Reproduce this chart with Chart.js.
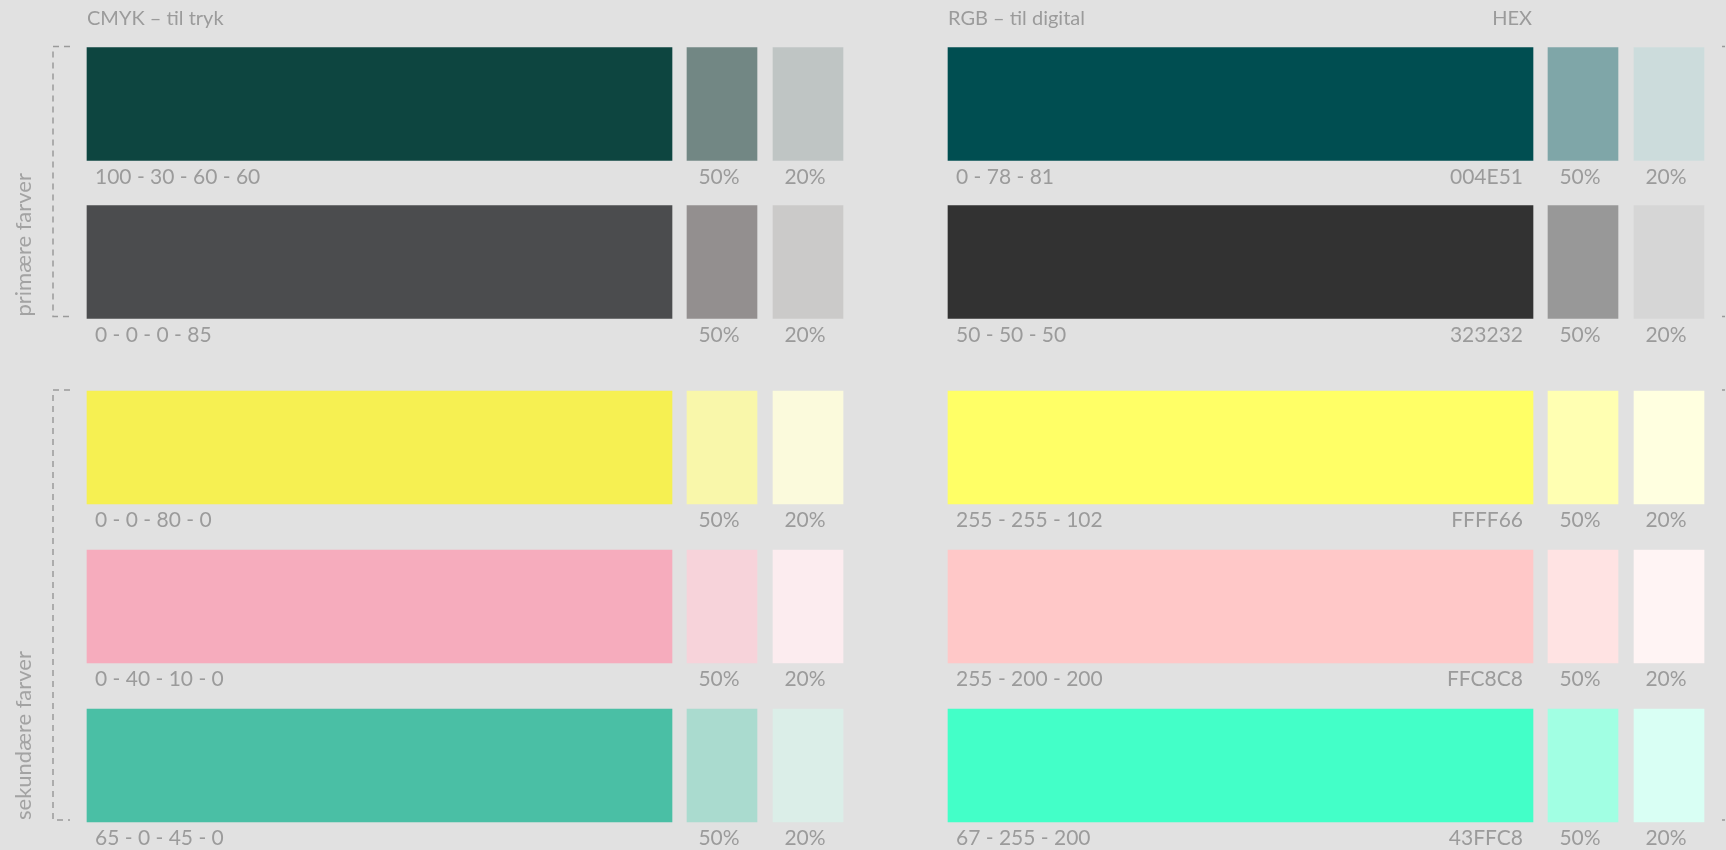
<!DOCTYPE html>
<html lang="da">
<head>
<meta charset="utf-8">
<title>Farver</title>
<script src="https://cdn.jsdelivr.net/npm/chart.js@4.4.1/dist/chart.umd.min.js"></script>
<style>
  html, body { margin: 0; padding: 0; background: #e1e1e1; }
  body { width: 1726px; height: 850px; position: relative; overflow: hidden; }
  .wrap { position: absolute; left: 0; width: 1726px; }
  #primary { top: 0; height: 360px; }
  #secondary { top: 360px; height: 490px; }
</style>
</head>
<body>
<div class="wrap" id="primary"><canvas id="chartPrimary"></canvas></div>
<div class="wrap" id="secondary"><canvas id="chartSecondary"></canvas></div>
<script>
// ========================================
// DATA - farvepalet
// ========================================
const groupNames = ['primære farver', 'sekundære farver'];
const groupSizes = [2, 3];
const columnHeaders = ['CMYK – til tryk', 'RGB – til digital', 'HEX'];
const tintLabels = ['50%', '20%'];

const cmykCodes = ['100 - 30 - 60 - 60', '0 - 0 - 0 - 85', '0 - 0 - 80 - 0', '0 - 40 - 10 - 0', '65 - 0 - 45 - 0'];
const rgbCodes = ['0 - 78 - 81', '50 - 50 - 50', '255 - 255 - 102', '255 - 200 - 200', '67 - 255 - 200'];
const hexCodes = ['004E51', '323232', 'FFFF66', 'FFC8C8', '43FFC8'];

// farver
const cmykFull = ['#0d4540', '#4b4c4e', '#f6f052', '#f6acbd', '#4abfa5'];
const cmykTint50 = ['#728784', '#938f8f', '#f9f7aa', '#f7d3da', '#aadbcf'];
const cmykTint20 = ['#bfc5c4', '#cbcac9', '#fbfadc', '#fcecef', '#dbeee8'];
const rgbTint50 = ['#7fa6a8', '#989898', '#ffffb2', '#ffe3e3', '#a1ffe3'];
const rgbTint20 = ['#ccdcdc', '#d6d6d6', '#ffffe0', '#fff4f4', '#d9fff4'];

// ========================================
// LAYOUT
// ========================================
const COLS = [
  { span: [87, 672], colors: cmykFull, kind: 'cmyk' },
  { span: [687, 757], colors: cmykTint50, kind: 'tint', tint: 0 },
  { span: [773, 843], colors: cmykTint20, kind: 'tint', tint: 1 },
  { span: [948, 1533], colors: hexCodes.map(h => '#' + h), kind: 'rgb' },
  { span: [1548, 1618], colors: rgbTint50, kind: 'tint', tint: 0 },
  { span: [1634, 1704], colors: rgbTint20, kind: 'tint', tint: 1 }
];
const TEXT = '#9b9b9b';
const FONT = 'Lato, "Open Sans", sans-serif';

function buildDatasets(rows) {
  return COLS.map((c, ci) => ({
    label: 'kolonne ' + ci,
    data: rows.map(() => c.span),
    backgroundColor: rows.map(r => c.colors[r]),
    borderWidth: 0,
    grouped: false,
    barThickness: 113
  }));
}

// tekster, klammer og overskrifter
const paletteText = {
  id: 'paletteText',
  afterDatasetsDraw(chart, args, opts) {
    const ctx = chart.ctx;
    const rows = opts.rows;
    ctx.save();
    ctx.fillStyle = TEXT;

    COLS.forEach((c, ci) => {
      const meta = chart.getDatasetMeta(ci);
      meta.data.forEach((el, i) => {
        const left = Math.min(el.x, el.base);
        const right = Math.max(el.x, el.base);
        const base = el.y + el.height / 2 + 23;
        const r = rows[i];
        ctx.font = '21px ' + FONT;
        ctx.textBaseline = 'alphabetic';
        if (c.kind === 'cmyk') {
          ctx.textAlign = 'left';
          ctx.fillText(cmykCodes[r], left + 8, base);
        } else if (c.kind === 'rgb') {
          ctx.textAlign = 'left';
          ctx.fillText(rgbCodes[r], left + 8, base);
          ctx.textAlign = 'right';
          ctx.fillText(hexCodes[r], right - 10, base);
        } else {
          ctx.textAlign = 'center';
          ctx.fillText(tintLabels[c.tint], (left + right) / 2 - 3, base);
        }
      });
    });

    // klamme til venstre (og kanten af en til højre)
    const first = chart.getDatasetMeta(0).data[0];
    const last = chart.getDatasetMeta(0).data[rows.length - 1];
    const top = first.y - first.height / 2 - 1;
    const bottom = last.y + last.height / 2 - 2;
    ctx.strokeStyle = '#9a9a9a';
    ctx.lineWidth = 1.5;
    ctx.setLineDash([6, 5]);
    ctx.beginPath();
    ctx.moveTo(70, top);
    ctx.lineTo(53, top);
    ctx.lineTo(53, bottom);
    ctx.lineTo(70, bottom);
    ctx.stroke();
    ctx.setLineDash([3, 5]);
    ctx.beginPath();
    ctx.moveTo(1722, top);
    ctx.lineTo(1730, top);
    ctx.moveTo(1722, bottom);
    ctx.lineTo(1730, bottom);
    ctx.stroke();
    ctx.setLineDash([]);

    // gruppenavn, lodret
    ctx.save();
    ctx.translate(31, bottom);
    ctx.rotate(-Math.PI / 2);
    ctx.font = '22px ' + FONT;
    ctx.fillStyle = '#a3a3a3';
    ctx.textAlign = 'left';
    ctx.textBaseline = 'alphabetic';
    ctx.fillText(opts.group, 0, 0);
    ctx.restore();

    if (opts.headers) {
      ctx.font = '20px ' + FONT;
      ctx.fillStyle = TEXT;
      ctx.textBaseline = 'alphabetic';
      ctx.textAlign = 'left';
      ctx.fillText(columnHeaders[0], COLS[0].span[0], 25);
      ctx.fillText(columnHeaders[1], COLS[3].span[0], 25);
      ctx.textAlign = 'right';
      ctx.fillText(columnHeaders[2], COLS[3].span[1] - 1, 25);
    }
    ctx.restore();
  }
};

function makeChart(canvasId, groupIdx, padding) {
  const start = groupSizes.slice(0, groupIdx).reduce((a, b) => a + b, 0);
  const rows = [];
  for (let i = 0; i < groupSizes[groupIdx]; i++) rows.push(start + i);

  return new Chart(document.getElementById(canvasId), {
    type: 'bar',
    data: {
      labels: rows.map(r => cmykCodes[r]),
      datasets: buildDatasets(rows)
    },
    options: {
      indexAxis: 'y',
      responsive: true,
      maintainAspectRatio: false,
      animation: false,
      layout: { padding: padding },
      scales: {
        x: { type: 'linear', min: 0, max: 1726, display: false },
        y: { type: 'category', display: false }
      },
      plugins: {
        legend: { display: false },
        tooltip: { enabled: false },
        paletteText: { rows: rows, group: groupNames[groupIdx], headers: groupIdx === 0 }
      }
    },
    plugins: [paletteText]
  });
}

makeChart('chartPrimary', 0, { top: 25, bottom: 19, left: 0, right: 0 });
makeChart('chartSecondary', 1, { top: 8, bottom: 5, left: 0, right: 0 });
</script>
</body>
</html>
